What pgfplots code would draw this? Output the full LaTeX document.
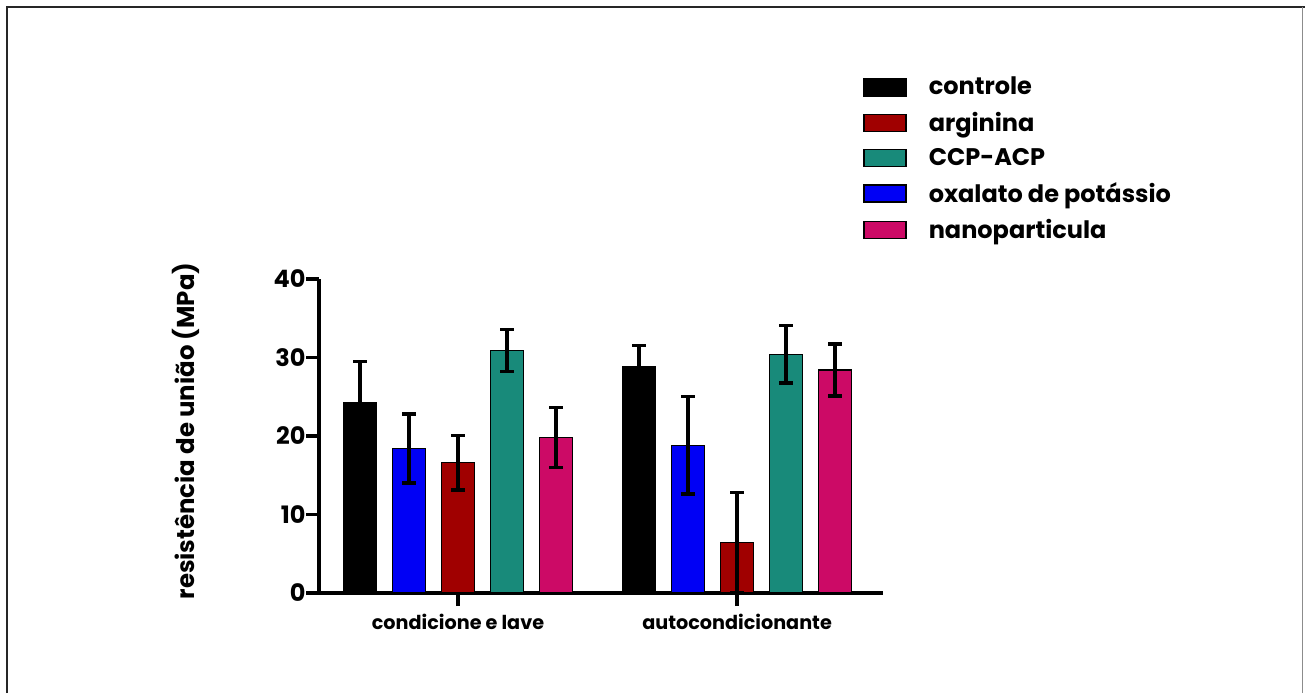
\documentclass[border=0pt]{standalone}
\usepackage{fontspec}
\setmainfont{Poppins}
\usepackage{pgfplots}
\usepackage{pgfplotstable}
\pgfplotsset{compat=1.18}
\definecolor{cRed}{HTML}{A00000}
\definecolor{cTeal}{HTML}{188A7A}
\definecolor{cBlue}{HTML}{0000F5}
\definecolor{cPink}{HTML}{CC0A66}
\pgfplotstableread{
x y e
0.6488 24.3 5.2
1.6488 28.8 2.7
}\controle
\pgfplotstableread{
x y e
1.0000 16.6 3.5
2.0000 6.4 6.4
}\arginina
\pgfplotstableread{
x y e
1.1756 30.9 2.65
2.1756 30.4 3.65
}\ccp
\pgfplotstableread{
x y e
0.8244 18.4 4.4
1.8244 18.8 6.2
}\oxalato
\pgfplotstableread{
x y e
1.3512 19.8 3.8
2.3512 28.4 3.3
}\nano
\pgfplotsset{
  mybar/.style={ybar, bar width=16.5pt, bar shift=0pt, draw=black, line width=0.7pt,
    error bars/.cd, y dir=both, y explicit,
    error bar style={line width=1.7pt, black},
    error mark options={rotate=90, mark size=3.4pt, line width=1.7pt, black},
    /pgfplots/.cd},
}
\begin{document}
\begin{tikzpicture}
\path[use as bounding box] (0,0) rectangle (652.5pt,346.5pt);
\draw[line width=1.1pt, black!85] (3.5pt,0) -- (3.5pt,343pt) -- (652.5pt,343pt);
\draw[line width=0.6pt, black!45] (651.2pt,343pt) -- (651.2pt,0);
\begin{axis}[
  at={(159.5pt,50pt)}, anchor=south west,
  scale only axis, width=282pt, height=157pt,
  xmin=0.502, xmax=2.523, ymin=0, ymax=40,
  axis lines=left, axis line style={-, line width=1.6pt, black},
  xtick={1,2}, xticklabels={condicione e lave, autocondicionante},
  ytick={0,10,20,30,40},
  tick style={line width=1.6pt, black}, major tick length=6.5pt, tick align=outside,
  /pgf/number format/assume math mode=true,
  yticklabel style={font=\bfseries\fontsize{12}{13}\selectfont, inner sep=0.5pt, xshift=0.5pt},
  xticklabel style={font=\bfseries\fontsize{9.6}{11}\selectfont, yshift=-0.5pt},
  ylabel={resistência de união (MPa)},
  ylabel style={font=\bfseries\fontsize{12.2}{13}\selectfont, at={(axis description cs:-0.236,0.516)}, anchor=center},
  legend style={at={(axis description cs:0.9645,1.657)}, anchor=north west, draw=none, fill=none,
    font=\bfseries\fontsize{12}{13}\selectfont, row sep=3.0pt, column sep=9pt, inner sep=0pt},
  legend cell align=left,
]
\addplot[mybar, fill=black, legend image code/.code={\draw[fill=black,draw=black] (0pt,-4.25pt) rectangle (21pt,4.25pt);}] table[x=x,y=y,y error=e] {\controle};
\addlegendentry{controle}
\addplot[mybar, fill=cRed, legend image code/.code={\draw[fill=cRed,draw=black] (0pt,-4.25pt) rectangle (21pt,4.25pt);}] table[x=x,y=y,y error=e] {\arginina};
\addlegendentry{arginina}
\addplot[mybar, fill=cTeal, legend image code/.code={\draw[fill=cTeal,draw=black] (0pt,-4.25pt) rectangle (21pt,4.25pt);}] table[x=x,y=y,y error=e] {\ccp};
\addlegendentry{CCP-ACP}
\addplot[mybar, fill=cBlue, legend image code/.code={\draw[fill=cBlue,draw=black] (0pt,-4.25pt) rectangle (21pt,4.25pt);}] table[x=x,y=y,y error=e] {\oxalato};
\addlegendentry{oxalato de potássio}
\addplot[mybar, fill=cPink, legend image code/.code={\draw[fill=cPink,draw=black] (0pt,-4.25pt) rectangle (21pt,4.25pt);}] table[x=x,y=y,y error=e] {\nano};
\addlegendentry{nanoparticula}
\end{axis}
\end{tikzpicture}
\end{document}
